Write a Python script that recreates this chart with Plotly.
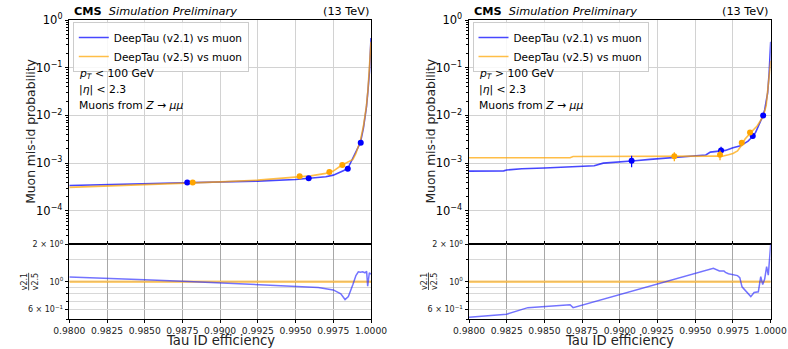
import plotly.graph_objects as go

# ---------------- data ----------------
# Left panel (pT < 100 GeV)
L_v21_eff = [0.9800, 0.9825, 0.9850, 0.9875, 0.9900, 0.9925, 0.9950, 0.9960, 0.9970, 0.9975,
             0.9980, 0.9982, 0.9985, 0.9988, 0.9990, 0.9993, 0.9995, 0.9997, 0.9998, 0.9999, 1.0000]
L_v21_mis = [3.4e-4, 3.55e-4, 3.7e-4, 3.85e-4, 4.0e-4, 4.2e-4, 4.55e-4, 4.8e-4, 5.2e-4, 5.6e-4,
             6.6e-4, 7.0e-4, 8.2e-4, 1.3e-3, 1.8e-3, 2.7e-3, 5.5e-3, 1.5e-2, 3.3e-2, 8.5e-2, 0.42]
L_v25_eff = [0.9800, 0.9825, 0.9850, 0.9875, 0.9900, 0.9925, 0.9950, 0.9960, 0.9970, 0.9975,
             0.9980, 0.9985, 0.9988, 0.9990, 0.9993, 0.9995, 0.9997, 0.9998, 0.9999, 1.0000]
L_v25_mis = [3.1e-4, 3.3e-4, 3.55e-4, 3.8e-4, 4.05e-4, 4.4e-4, 5.0e-4, 5.4e-4, 6.1e-4, 6.8e-4,
             8.8e-4, 1.05e-3, 1.2e-3, 1.6e-3, 3.0e-3, 6.0e-3, 1.6e-2, 3.5e-2, 9.0e-2, 0.35]
L_v21_pt_eff = [0.98782, 0.99587, 0.99846, 0.99932]
L_v21_pt_mis = [3.95e-4, 4.8e-4, 7.6e-4, 2.67e-3]
L_v25_pt_eff = [0.98818, 0.99527, 0.99724, 0.99810]
L_v25_pt_mis = [3.95e-4, 5.3e-4, 6.5e-4, 9.1e-4]
L_ratio_eff = [0.9800, 0.9825, 0.9850, 0.9875, 0.9900, 0.9925, 0.9950, 0.9965, 0.9975, 0.9980,
               0.99828, 0.9985, 0.9988, 0.9990, 0.99916, 0.9993, 0.99945, 0.9996, 0.99971,
               0.99978, 0.99989, 1.0000]
L_ratio = [1.09, 1.07, 1.04, 1.01, 0.98, 0.95, 0.92, 0.90, 0.86, 0.80,
           0.72, 0.76, 0.95, 1.12, 1.20, 1.19, 1.20, 1.18, 1.21, 0.92, 1.18, 1.15]

# Right panel (pT > 100 GeV)
R_v21_eff = [0.9800, 0.9823, 0.9825, 0.9835, 0.9850, 0.9867, 0.9883, 0.9889, 0.9900, 0.9910,
             0.9920, 0.9930, 0.9940, 0.9950, 0.9957, 0.9960, 0.9965, 0.9970, 0.9975, 0.9980,
             0.9985, 0.9988, 0.9990, 0.9992, 0.9994, 0.9996, 0.9998, 0.9999, 1.0000]
R_v21_mis = [6.8e-4, 6.9e-4, 7.2e-4, 7.6e-4, 7.9e-4, 8.3e-4, 8.8e-4, 1.0e-3, 1.05e-3, 1.12e-3,
             1.2e-3, 1.27e-3, 1.33e-3, 1.42e-3, 1.48e-3, 1.7e-3, 1.78e-3, 1.85e-3, 2.1e-3, 2.3e-3,
             2.9e-3, 3.6e-3, 4.4e-3, 6.0e-3, 8.5e-3, 1.3e-2, 3.0e-2, 8.0e-2, 0.35]
R_v25_eff = [0.9800, 0.9867, 0.9869, 0.9940, 0.9960, 0.9965, 0.9968, 0.9972, 0.9975, 0.9978,
             0.9980, 0.9983, 0.9986, 0.9988, 0.9991, 0.9993, 0.9995, 0.9997, 0.9999, 1.0000]
R_v25_mis = [1.30e-3, 1.30e-3, 1.38e-3, 1.40e-3, 1.40e-3, 1.38e-3, 1.40e-3, 1.5e-3, 1.6e-3, 1.8e-3,
             2.2e-3, 3.2e-3, 4.2e-3, 4.8e-3, 6.0e-3, 7.5e-3, 9.5e-3, 1.6e-2, 6.0e-2, 0.14]
R_v21_pt_eff = [0.99078, 0.99671, 0.99881, 0.99950]
R_v21_pt_mis = [1.12e-3, 1.85e-3, 3.7e-3, 1.0e-2]
R_v21_pt_err = [0.3e-3, 0.35e-3, 0.4e-3, 0.8e-3]
R_v25_pt_eff = [0.99361, 0.99664, 0.99808, 0.99863]
R_v25_pt_mis = [1.4e-3, 1.5e-3, 2.67e-3, 4.4e-3]
R_v25_pt_err = [0.3e-3, 0.35e-3, 0.4e-3, 0.5e-3]
R_ratio_eff = [0.9800, 0.9825, 0.9839, 0.9867, 0.9869, 0.9962, 0.9966, 0.9969, 0.9970, 0.9972,
               0.9978, 0.99795, 0.9981, 0.9983, 0.99868, 0.9989, 0.99918, 0.99934, 0.99947,
               0.9996, 0.99973, 0.99984, 1.0000]
R_ratio = [0.52, 0.55, 0.62, 0.655, 0.62, 1.28, 1.22, 1.22, 1.19, 1.16,
           1.12, 1.08, 0.91, 0.86, 0.76, 0.82, 0.83, 1.10, 0.95, 1.05, 1.32, 1.13, 2.0]

panel_text = [["<i>p</i><sub><i>T</i></sub> < 100 GeV", "|<i>η</i>| < 2.3", "Muons from <i>Z</i> → <i>μμ</i>"],
              ["<i>p</i><sub><i>T</i></sub> > 100 GeV", "|<i>η</i>| < 2.3", "Muons from <i>Z</i> → <i>μμ</i>"]]
x_ticks = [0.98, 0.9825, 0.985, 0.9875, 0.99, 0.9925, 0.995, 0.9975, 1.0]
y_ticks = [1e-4, 1e-3, 1e-2, 1e-1, 1]
y_ticktext = ["10<sup>−4</sup>", "10<sup>−3</sup>", "10<sup>−2</sup>", "10<sup>−1</sup>", "10<sup>0</sup>"]
r_ticks = [0.6, 1.0, 2.0]
r_ticktext = ["6 × 10<sup>−1</sup>", "10<sup>0</sup>", "2 × 10<sup>0</sup>"]

# ---------------- figure ----------------
W, H = 788, 349
FONT = "DejaVu Sans"
BLUE = "rgba(0,0,255,0.72)"
BLUE_R = "rgba(40,40,255,0.65)"
ORANGE = "rgba(255,165,0,0.72)"
BLUE_M = "#0000ff"
ORANGE_M = "#ffa500"

fig = go.Figure()

def px(x):
    return x / W

def py(y):
    return 1 - y / H

panels = [
    dict(x0=69.3, x1=371, legend="legend",
         v21=(L_v21_eff, L_v21_mis), v25=(L_v25_eff, L_v25_mis),
         p21=(L_v21_pt_eff, L_v21_pt_mis, None), p25=(L_v25_pt_eff, L_v25_pt_mis, None),
         ratio=(L_ratio_eff, L_ratio)),
    dict(x0=469, x1=770.7, legend="legend2",
         v21=(R_v21_eff, R_v21_mis), v25=(R_v25_eff, R_v25_mis),
         p21=(R_v21_pt_eff, R_v21_pt_mis, R_v21_pt_err), p25=(R_v25_pt_eff, R_v25_pt_mis, R_v25_pt_err),
         ratio=(R_ratio_eff, R_ratio)),
]

TOP, MID, BOT = 20, 244.2, 319.3
minor_main = [k * 10 ** n for n in range(-5, 0) for k in range(2, 10)]
minor_ratio = [0.5, 0.7, 0.8, 0.9, 1.5]

layout = {}
for i, p in enumerate(panels):
    mi = 2 * i + 1      # main axes index
    ri = 2 * i + 2      # ratio axes index
    xm, ym = f"x{mi}" if mi > 1 else "x", f"y{mi}" if mi > 1 else "y"
    xr, yr = f"x{ri}", f"y{ri}"

    # main lines
    fig.add_trace(go.Scatter(x=p["v21"][0], y=p["v21"][1], mode="lines", name="DeepTau (v2.1) vs muon",
                             line=dict(color=BLUE, width=1.6), xaxis=xm, yaxis=ym, legend=p["legend"]))
    fig.add_trace(go.Scatter(x=p["v25"][0], y=p["v25"][1], mode="lines", name="DeepTau (v2.5) vs muon",
                             line=dict(color=ORANGE, width=1.6), xaxis=xm, yaxis=ym, legend=p["legend"]))
    # working-point markers
    for (ex, ey, err), col in [(p["p21"], BLUE_M), (p["p25"], ORANGE_M)]:
        fig.add_trace(go.Scatter(
            x=ex, y=ey, mode="markers", showlegend=False,
            marker=dict(color=col, size=6),
            error_y=dict(type="data", array=err, visible=err is not None, color=col, thickness=1.2, width=0),
            xaxis=xm, yaxis=ym))
    # ratio
    fig.add_trace(go.Scatter(x=[0.98, 1.0], y=[1.0, 1.0], mode="lines", showlegend=False,
                             line=dict(color="rgba(255,165,0,0.55)", width=2.5), xaxis=xr, yaxis=yr))
    fig.add_trace(go.Scatter(x=p["ratio"][0], y=p["ratio"][1], mode="lines", showlegend=False,
                             line=dict(color=BLUE_R, width=1.5), xaxis=xr, yaxis=yr))

    dom_x = [px(p["x0"]), px(p["x1"])]
    kx = "xaxis" if mi == 1 else f"xaxis{mi}"
    ky = "yaxis" if mi == 1 else f"yaxis{mi}"
    layout[kx] = dict(domain=dom_x, range=[0.98, 1.0], anchor=ym, matches=xr, showticklabels=False,
                      automargin=False,
                      tickvals=x_ticks, ticks="inside", ticklen=3, tickcolor="black",
                      showgrid=True, gridcolor="#d2d2d2", gridwidth=1.3,
                      showline=True, linecolor="black", linewidth=1, mirror=True, zeroline=False)
    layout[ky] = dict(domain=[py(MID), py(TOP)], type="log", range=[-4.699, 0], anchor=xm,
                      automargin=False,
                      tickvals=y_ticks, ticktext=y_ticktext, ticks="outside", ticklen=3.5, tickcolor="black",
                      tickfont=dict(size=11.5, color="black", family=FONT),
                      showgrid=True, gridcolor="#d2d2d2", gridwidth=1.3,
                      minor=dict(tickvals=minor_main, ticks="outside", ticklen=2, tickcolor="black", showgrid=False),
                      showline=True, linecolor="black", linewidth=1, mirror=True, zeroline=False)
    layout[f"xaxis{ri}"] = dict(domain=dom_x, range=[0.98, 1.0], anchor=yr, automargin=False,
                                tickvals=x_ticks, tickformat=".4f", ticks="outside", ticklen=3, tickcolor="black",
                                tickfont=dict(size=9.2, color="#222", family=FONT),
                                showgrid=True, gridcolor="#a8a8a8", gridwidth=1.2,
                                showline=True, linecolor="black", linewidth=1, mirror=True, zeroline=False)
    layout[f"yaxis{ri}"] = dict(domain=[py(BOT), py(MID)], type="log", range=[-0.30103, 0.30103], anchor=xr,
                                automargin=False,
                                tickvals=r_ticks, ticktext=r_ticktext, ticks="outside", ticklen=3.5, tickcolor="black",
                                tickfont=dict(size=8, color="#222", family=FONT),
                                showgrid=True, gridcolor="#d8d8d8", gridwidth=1.2,
                                minor=dict(tickvals=minor_ratio, ticks="outside", ticklen=2, tickcolor="black",
                                           showgrid=True, gridcolor="#d8d8d8", gridwidth=1.2),
                                showline=True, linecolor="black", linewidth=1, mirror=True, zeroline=False)

    # legend
    layout[p["legend"]] = dict(x=px(p["x0"] + 3.5), y=py(TOP + 2), xanchor="left", yanchor="top",
                               bgcolor="rgba(255,255,255,0.85)", bordercolor="#cccccc", borderwidth=1,
                               font=dict(size=10.5, family=FONT, color="black"),
                               itemwidth=30, tracegroupgap=0)

# annotations
ann = []
for i, p in enumerate(panels):
    ann.append(dict(x=px(p["x0"] + 3), y=py(11), xref="paper", yref="paper", xanchor="left", yanchor="middle",
                    text="<b>CMS</b>  <i>Simulation Preliminary</i>", showarrow=False,
                    font=dict(size=11.3, family=FONT, color="black")))
    ann.append(dict(x=px(p["x1"] - 0.5), y=py(11), xref="paper", yref="paper", xanchor="right", yanchor="middle",
                    text="(13 TeV)", showarrow=False, font=dict(size=11.3, family=FONT, color="black")))
    for j, t in enumerate(panel_text[i]):
        ann.append(dict(x=px(p["x0"] + 8), y=py(74 + j * 15.5), xref="paper", yref="paper",
                        xanchor="left", yanchor="middle", text=t, showarrow=False,
                        font=dict(size=10.8, family=FONT, color="black")))
    ann.append(dict(x=px(p["x0"] - 38.5), y=py(131), xref="paper", yref="paper", textangle=-90,
                    xanchor="center", yanchor="middle",
                    text="Muon mis-id probability", showarrow=False,
                    font=dict(size=12.3, family=FONT, color="#222")))
    ann.append(dict(x=px(p["x0"] - 40), y=py(282), xref="paper", yref="paper", textangle=-90,
                    xanchor="center", yanchor="middle",
                    text="<u>v2.1</u><br>v2.5", showarrow=False,
                    font=dict(size=8, family=FONT, color="#222")))
    ann.append(dict(x=px((p["x0"] + p["x1"]) / 2), y=py(340.3), xref="paper", yref="paper",
                    xanchor="center", yanchor="middle", borderpad=0,
                    text="Tau ID efficiency", showarrow=False,
                    font=dict(size=13.2, family=FONT, color="#222")))

fig.update_layout(width=W, height=H, margin=dict(l=0, r=0, t=0, b=0, autoexpand=False),
                  paper_bgcolor="white", plot_bgcolor="white", annotations=ann,
                  font=dict(family=FONT), **layout)

fig.write_html("out.html", post_script="document.body.style.margin='0px';")
